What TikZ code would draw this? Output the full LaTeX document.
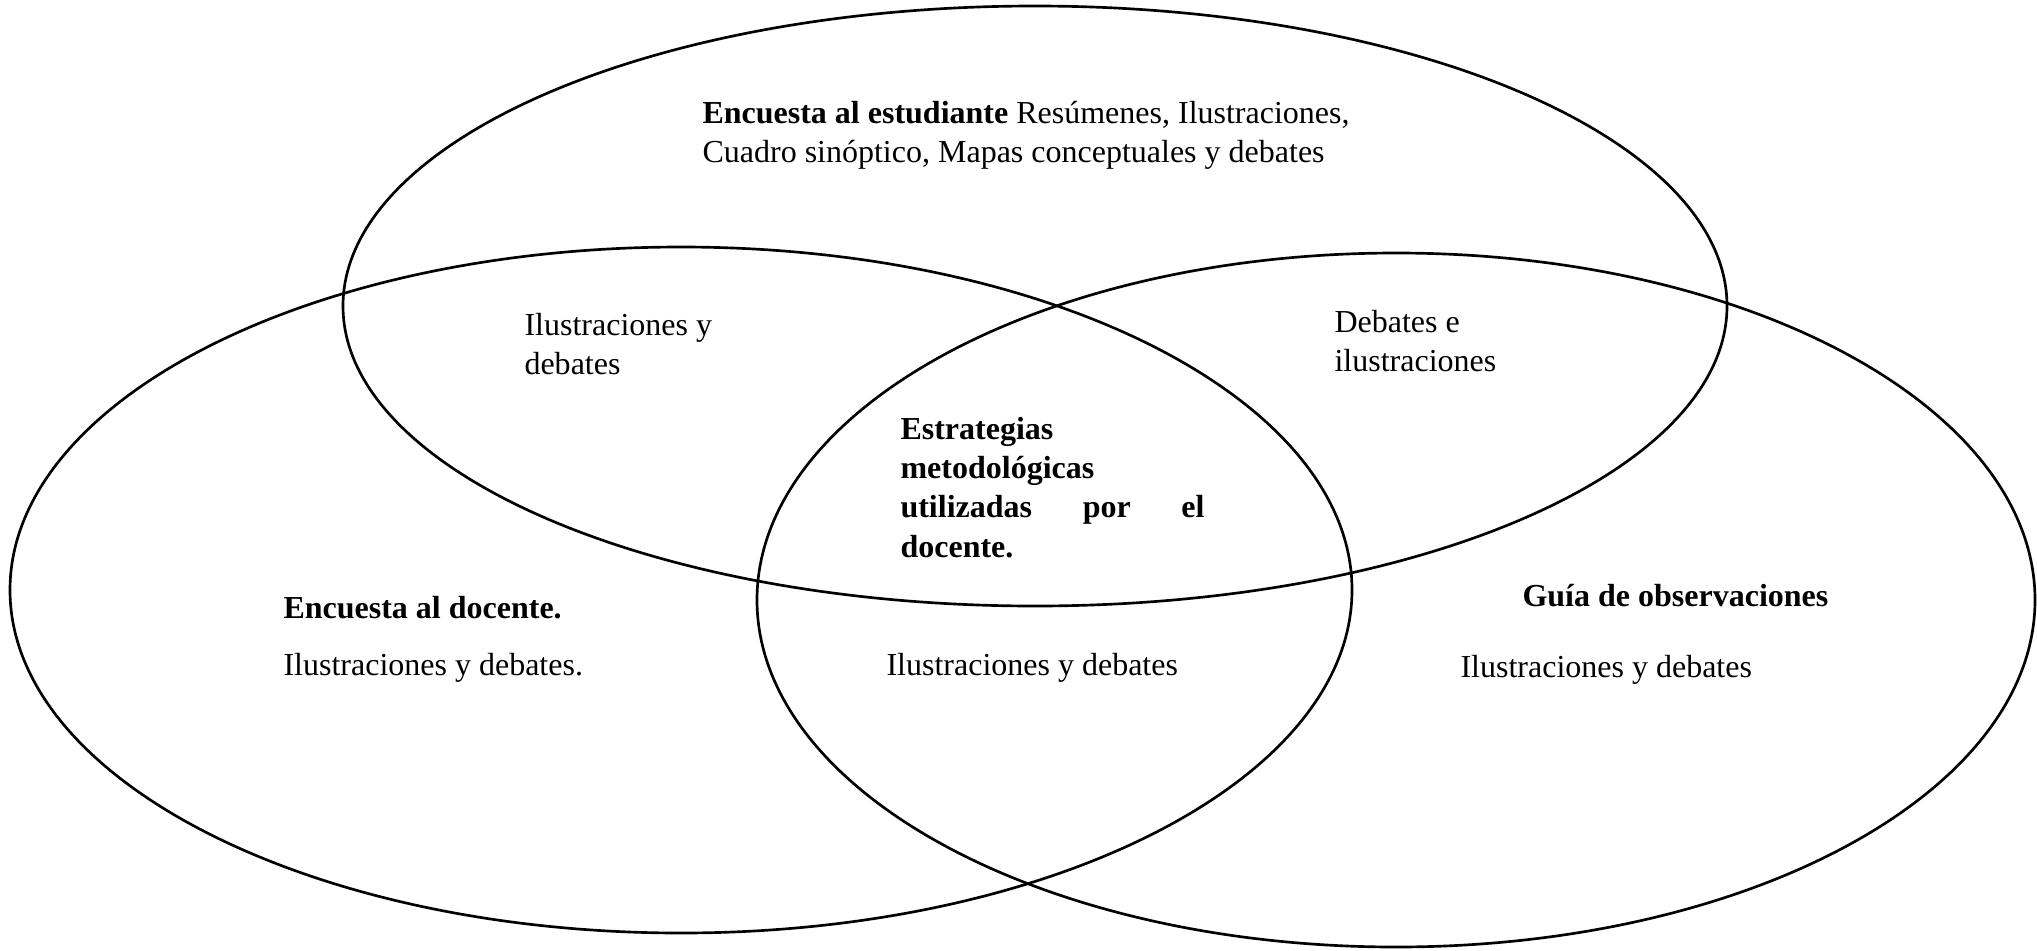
\documentclass[tikz,border=0pt]{standalone}
\usepackage{fontspec}
\setmainfont{Liberation Serif}
\usetikzlibrary{shapes.geometric}

\begin{document}
\begin{tikzpicture}[x=0.375pt, y=-0.375pt,
font=\fontsize{12}{14.5}\selectfont,
set/.style={draw, ellipse, line width=1pt, inner sep=0pt},
lbl/.style={anchor=base west, inner sep=0pt, align=left},
title/.style={lbl, font=\fontsize{12}{14.5}\selectfont\bfseries}]
\useasboundingbox (0,0) rectangle (2037,950);
% the three sets
\node[set, minimum width=519pt, minimum height=225pt] (student) at (1035,306) {};
\node[set, minimum width=503.25pt, minimum height=257.25pt] (teacher) at (681,590) {};
\node[set, minimum width=479.25pt, minimum height=260.25pt] (guide) at (1396,600) {};
% texts (multi-line nodes sit on their last line)
\node[lbl] (studenttext) at (702,162)
  {\textbf{Encuesta al estudiante} Resúmenes, Ilustraciones,\\Cuadro sinóptico, Mapas conceptuales y debates};
\node[lbl] (st) at (524,374) {Ilustraciones y\\debates};
\node[lbl] (sg) at (1334,371) {Debates e\\ilustraciones};
\node[title, text width=114pt, align=justify, font=\fontsize{12}{14.75}\selectfont\bfseries] (core) at (900,439)
  {Estrategias\linebreak metodológicas\linebreak utilizadas por el\linebreak docente.};
\node[title] (teachertitle) at (283,618) {Encuesta al docente.};
\node[lbl] (teachertext) at (283,675) {Ilustraciones y debates.};
\node[lbl] (tg) at (886,675) {Ilustraciones y debates};
\node[title] (guidetitle) at (1522,606) {Guía de observaciones};
\node[lbl] (guidetext) at (1460,677) {Ilustraciones y debates};
\end{tikzpicture}
\end{document}
